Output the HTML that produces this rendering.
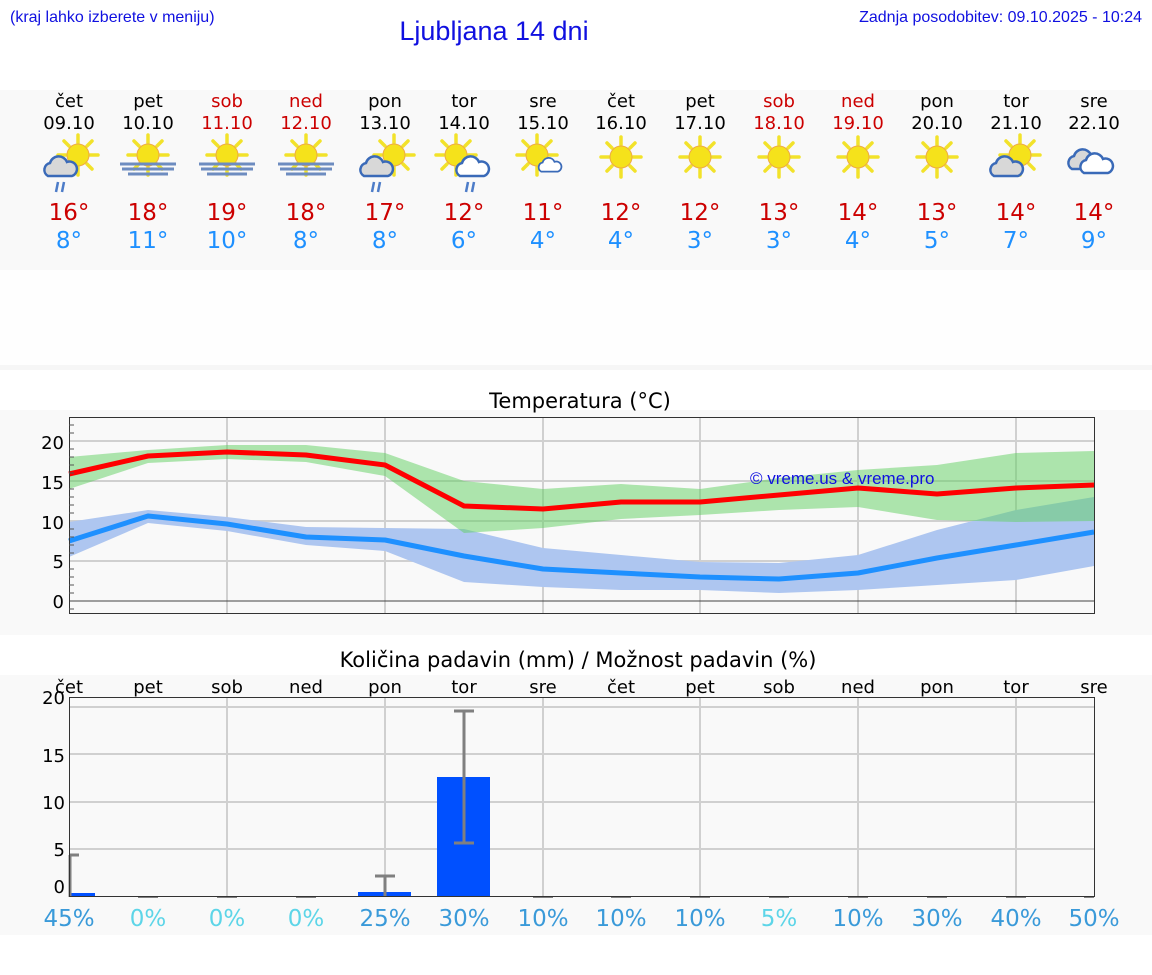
<!DOCTYPE html>
<html><head><meta charset="utf-8"><style>
html,body{margin:0;padding:0;background:#fff;}
svg{display:block;}
</style></head><body>
<svg width="1152" height="975" xmlns="http://www.w3.org/2000/svg" font-family="'DejaVu Sans', sans-serif">
<defs>
<g id="sun">
 <g stroke="#f2e22a" stroke-width="3.5" stroke-linecap="round">
  <line x1="0" y1="-12" x2="0" y2="-20"/><line x1="0" y1="12" x2="0" y2="20"/>
  <line x1="-12" y1="0" x2="-20" y2="0"/><line x1="12" y1="0" x2="20" y2="0"/>
  <line x1="9" y1="9" x2="14" y2="14"/><line x1="-9" y1="-9" x2="-14" y2="-14"/>
  <line x1="9" y1="-9" x2="14" y2="-14"/><line x1="-9" y1="9" x2="-14" y2="14"/>
 </g>
 <circle r="11" fill="#f5e21b" stroke="#eeaa44" stroke-width="1"/>
</g>
<g id="cloudg">
 <path d="M-14,8 a7,7 0 0 1 2,-13 a9,9 0 0 1 17,-1 a7,7 0 0 1 5,14 z" fill="#d8d8d8" stroke="#3a6ab8" stroke-width="2.5"/>
</g>
<g id="cloudw">
 <path d="M-14,8 a7,7 0 0 1 2,-13 a9,9 0 0 1 17,-1 a7,7 0 0 1 5,14 z" fill="#fff" stroke="#3a6ab8" stroke-width="2.5"/>
</g>
<g id="fog"><g stroke="#6d8cc0" stroke-width="3">
 <line x1="-28" y1="9" x2="28" y2="9"/><line x1="-26" y1="14" x2="26" y2="14"/><line x1="-20" y1="19" x2="20" y2="19"/></g></g>
<g id="rain"><g stroke="#4d7cc8" stroke-width="2.5"><line x1="-4" y1="0" x2="-6" y2="10"/><line x1="2" y1="0" x2="0" y2="10"/></g></g>
</defs>

<!-- header -->
<text x="10" y="22" font-family="'Liberation Sans',sans-serif" font-size="16" fill="#1010e0">(kraj lahko izberete v meniju)</text>
<text x="494" y="40" font-family="'Liberation Sans',sans-serif" font-size="27" fill="#1010e0" text-anchor="middle">Ljubljana 14 dni</text>
<text x="1142" y="22" font-family="'Liberation Sans',sans-serif" font-size="16" fill="#1010e0" text-anchor="end">Zadnja posodobitev: 09.10.2025 - 10:24</text>

<!-- panels -->
<rect x="0" y="90" width="1152" height="180" fill="#f9f9f9"/>
<rect x="0" y="270" width="1152" height="95" fill="#fefefe"/>
<rect x="0" y="365" width="1152" height="5" fill="#f6f6f6"/>
<rect x="0" y="410" width="1152" height="225" fill="#f9f9f9"/>
<rect x="0" y="675" width="1152" height="260" fill="#f9f9f9"/>

<!-- day header -->
<g font-size="18" text-anchor="middle">
<text x="69" y="107">čet</text><text x="69" y="129">09.10</text>
<text x="148" y="107">pet</text><text x="148" y="129">10.10</text>
<text x="227" y="107" fill="#cc0000">sob</text><text x="227" y="129" fill="#cc0000">11.10</text>
<text x="306" y="107" fill="#cc0000">ned</text><text x="306" y="129" fill="#cc0000">12.10</text>
<text x="385" y="107">pon</text><text x="385" y="129">13.10</text>
<text x="464" y="107">tor</text><text x="464" y="129">14.10</text>
<text x="543" y="107">sre</text><text x="543" y="129">15.10</text>
<text x="621" y="107">čet</text><text x="621" y="129">16.10</text>
<text x="700" y="107">pet</text><text x="700" y="129">17.10</text>
<text x="779" y="107" fill="#cc0000">sob</text><text x="779" y="129" fill="#cc0000">18.10</text>
<text x="858" y="107" fill="#cc0000">ned</text><text x="858" y="129" fill="#cc0000">19.10</text>
<text x="937" y="107">pon</text><text x="937" y="129">20.10</text>
<text x="1016" y="107">tor</text><text x="1016" y="129">21.10</text>
<text x="1094" y="107">sre</text><text x="1094" y="129">22.10</text>
</g>

<!-- icons -->
<use href="#sun" x="78" y="155"/><use href="#cloudg" x="62" y="168"/><use href="#rain" x="62" y="182"/>
<use href="#sun" x="148" y="155"/><use href="#fog" x="148" y="155"/>
<use href="#sun" x="227" y="155"/><use href="#fog" x="227" y="155"/>
<use href="#sun" x="306" y="155"/><use href="#fog" x="306" y="155"/>
<use href="#sun" x="394" y="155"/><use href="#cloudg" x="378" y="168"/><use href="#rain" x="378" y="182"/>
<use href="#sun" x="456" y="155"/><use href="#cloudw" x="474" y="168"/><use href="#rain" x="472" y="182"/>
<use href="#sun" x="537" y="155"/><g transform="translate(551,166) scale(0.7)"><use href="#cloudw"/></g>
<use href="#sun" x="621" y="157"/>
<use href="#sun" x="700" y="157"/>
<use href="#sun" x="779" y="157"/>
<use href="#sun" x="858" y="157"/>
<use href="#sun" x="937" y="157"/>
<use href="#sun" x="1020" y="155"/><use href="#cloudg" x="1008" y="168"/>
<g transform="translate(1090,161)"><use href="#cloudg" x="-4" y="0"/><use href="#cloudw" x="8" y="4"/></g>

<!-- temps -->
<g font-size="23" text-anchor="middle">
<g fill="#cc0000">
<text x="69" y="220">16°</text><text x="148" y="220">18°</text><text x="227" y="220">19°</text><text x="306" y="220">18°</text><text x="385" y="220">17°</text><text x="464" y="220">12°</text><text x="543" y="220">11°</text><text x="621" y="220">12°</text><text x="700" y="220">12°</text><text x="779" y="220">13°</text><text x="858" y="220">14°</text><text x="937" y="220">13°</text><text x="1016" y="220">14°</text><text x="1094" y="220">14°</text>
</g>
<g fill="#1e90ff">
<text x="69" y="248">8°</text><text x="148" y="248">11°</text><text x="227" y="248">10°</text><text x="306" y="248">8°</text><text x="385" y="248">8°</text><text x="464" y="248">6°</text><text x="543" y="248">4°</text><text x="621" y="248">4°</text><text x="700" y="248">3°</text><text x="779" y="248">3°</text><text x="858" y="248">4°</text><text x="937" y="248">5°</text><text x="1016" y="248">7°</text><text x="1094" y="248">9°</text>
</g></g>

<!-- temperature chart -->
<text x="580" y="408" font-size="21" text-anchor="middle">Temperatura (°C)</text>
<g stroke="#d0d0d0" stroke-width="2">
<line x1="69" y1="441" x2="1094" y2="441"/><line x1="69" y1="481" x2="1094" y2="481"/><line x1="69" y1="521" x2="1094" y2="521"/><line x1="69" y1="561" x2="1094" y2="561"/>
<line x1="227" y1="417" x2="227" y2="614"/><line x1="385" y1="417" x2="385" y2="614"/><line x1="543" y1="417" x2="543" y2="614"/><line x1="700" y1="417" x2="700" y2="614"/><line x1="858" y1="417" x2="858" y2="614"/><line x1="1016" y1="417" x2="1016" y2="614"/>
</g>
<line x1="69" y1="601" x2="1094" y2="601" stroke="#444" stroke-width="1"/>
<polygon fill="#aec6f0" points="69,522 148,510 227,517 306,527 385,528 464,529 543,548 621,555 700,562 779,563 858,555 937,530 1016,510 1094,497 1094,566 1016,580 937,585 858,590 779,593 700,590 621,590 543,587 464,582 385,551 306,545 227,531 148,523 69,557"/>
<polygon fill="#5fcf5f" fill-opacity="0.5" points="69,457 148,450 227,445 306,445 385,453 464,481 543,489 621,484 700,489 779,478 858,470 937,465 1016,453 1094,451 1094,521 1016,522 937,520 858,507 779,510 700,515 621,519 543,528 464,533 385,476 306,462 227,459 148,463 69,489"/>
<polyline fill="none" stroke="#ff0000" stroke-width="5" stroke-linejoin="round" points="69,474 148,456 227,452 306,455 385,465 464,506 543,509 621,502 700,502 779,495 858,488 937,494 1016,488 1094,485"/>
<polyline fill="none" stroke="#1e90ff" stroke-width="5" stroke-linejoin="round" points="69,541 148,516 227,524 306,537 385,540 464,556 543,569 621,573 700,577 779,579 858,573 937,558 1016,545 1094,532"/>
<text x="750" y="484" font-family="'Liberation Sans',sans-serif" font-size="17" fill="#1010e0">© vreme.us &amp; vreme.pro</text>
<rect x="69.5" y="417.5" width="1025" height="196" fill="none" stroke="#333" stroke-width="1"/>
<g stroke="#555" stroke-width="1">
<line x1="69" y1="425" x2="74" y2="425"/><line x1="69" y1="433" x2="74" y2="433"/><line x1="69" y1="449" x2="74" y2="449"/><line x1="69" y1="457" x2="74" y2="457"/><line x1="69" y1="465" x2="74" y2="465"/><line x1="69" y1="473" x2="74" y2="473"/><line x1="69" y1="489" x2="74" y2="489"/><line x1="69" y1="497" x2="74" y2="497"/><line x1="69" y1="505" x2="74" y2="505"/><line x1="69" y1="513" x2="74" y2="513"/><line x1="69" y1="529" x2="74" y2="529"/><line x1="69" y1="537" x2="74" y2="537"/><line x1="69" y1="545" x2="74" y2="545"/><line x1="69" y1="553" x2="74" y2="553"/><line x1="69" y1="569" x2="74" y2="569"/><line x1="69" y1="577" x2="74" y2="577"/><line x1="69" y1="585" x2="74" y2="585"/><line x1="69" y1="593" x2="74" y2="593"/><line x1="69" y1="609" x2="74" y2="609"/>
</g>
<g font-size="18" text-anchor="end">
<text x="64" y="449">20</text><text x="64" y="489">15</text><text x="64" y="529">10</text><text x="64" y="568">5</text><text x="64" y="608">0</text>
</g>

<!-- precipitation chart -->
<text x="578" y="667" font-size="21" text-anchor="middle">Količina padavin (mm) / Možnost padavin (%)</text>
<g stroke="#d0d0d0" stroke-width="2">
<line x1="69" y1="707" x2="1094" y2="707"/><line x1="69" y1="754" x2="1094" y2="754"/><line x1="69" y1="802" x2="1094" y2="802"/><line x1="69" y1="849" x2="1094" y2="849"/>
<line x1="227" y1="697" x2="227" y2="897"/><line x1="385" y1="697" x2="385" y2="897"/><line x1="543" y1="697" x2="543" y2="897"/><line x1="700" y1="697" x2="700" y2="897"/><line x1="858" y1="697" x2="858" y2="897"/><line x1="1016" y1="697" x2="1016" y2="897"/>
</g>
<g fill="#0050ff">
<rect x="70" y="893" width="25" height="4"/><rect x="358" y="892" width="53" height="5"/><rect x="437" y="777" width="53" height="120"/>
</g>
<g stroke="#808080" stroke-width="3">
<line x1="70" y1="855" x2="70" y2="897"/><line x1="70" y1="855" x2="79" y2="855"/>
<line x1="385" y1="876" x2="385" y2="897"/><line x1="375" y1="876" x2="395" y2="876"/>
<line x1="464" y1="711" x2="464" y2="843"/><line x1="454" y1="711" x2="474" y2="711"/><line x1="454" y1="843" x2="474" y2="843"/>
<g stroke-width="2"><line x1="138" y1="897" x2="158" y2="897"/><line x1="217" y1="897" x2="237" y2="897"/><line x1="296" y1="897" x2="316" y2="897"/><line x1="533" y1="897" x2="553" y2="897"/><line x1="611" y1="897" x2="631" y2="897"/><line x1="690" y1="897" x2="710" y2="897"/><line x1="769" y1="897" x2="789" y2="897"/><line x1="848" y1="897" x2="868" y2="897"/><line x1="927" y1="897" x2="947" y2="897"/><line x1="1006" y1="897" x2="1026" y2="897"/><line x1="1084" y1="897" x2="1094" y2="897"/></g>
</g>
<rect x="69.5" y="697.5" width="1025" height="199" fill="none" stroke="#333" stroke-width="1"/>
<g font-size="18" text-anchor="end">
<text x="65" y="704">20</text><text x="65" y="762">15</text><text x="65" y="809">10</text><text x="65" y="856">5</text><text x="65" y="893">0</text>
</g>
<g font-size="18" text-anchor="middle">
<text x="69" y="693">čet</text><text x="148" y="693">pet</text><text x="227" y="693">sob</text><text x="306" y="693">ned</text><text x="385" y="693">pon</text><text x="464" y="693">tor</text><text x="543" y="693">sre</text><text x="621" y="693">čet</text><text x="700" y="693">pet</text><text x="779" y="693">sob</text><text x="858" y="693">ned</text><text x="937" y="693">pon</text><text x="1016" y="693">tor</text><text x="1094" y="693">sre</text>
</g>
<g font-size="23" text-anchor="middle" fill="#3a9ad9">
<text x="69" y="926">45%</text><text x="148" y="926" fill="#5dd5e8">0%</text><text x="227" y="926" fill="#5dd5e8">0%</text><text x="306" y="926" fill="#5dd5e8">0%</text><text x="385" y="926">25%</text><text x="464" y="926">30%</text><text x="543" y="926">10%</text><text x="621" y="926">10%</text><text x="700" y="926">10%</text><text x="779" y="926" fill="#5dd5e8">5%</text><text x="858" y="926">10%</text><text x="937" y="926">30%</text><text x="1016" y="926">40%</text><text x="1094" y="926">50%</text>
</g>
</svg>
</body></html>
